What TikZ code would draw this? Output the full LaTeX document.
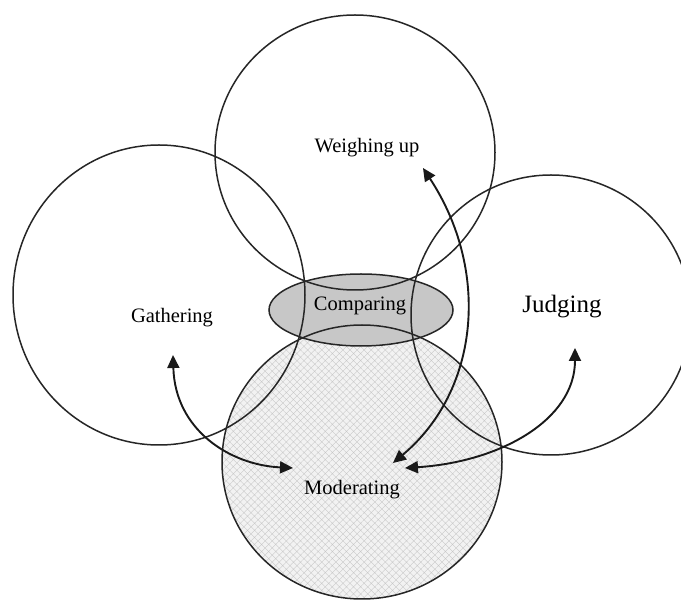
\documentclass[tikz,border=0pt]{standalone}
\usepackage{fontspec}
\setmainfont{Liberation Serif}
\usetikzlibrary{arrows.meta,patterns.meta}
\begin{document}
\begin{tikzpicture}[x=1pt,y=-1pt,
  ring/.style={draw=black!85,line width=1.5pt},
  lbl/.style={font=\fontsize{20.5}{24}\selectfont,anchor=base,inner sep=0pt},
  link/.style={line width=1.9pt,draw=black!90,{Triangle[length=13pt,width=12pt]}-{Triangle[length=13pt,width=12pt]}}]
\useasboundingbox (0,0) rectangle (681,601);
\clip (0,0) rectangle (681,601);
\fill[white] (0,0) rectangle (681,601);

% shaded moderating disc and the comparing ellipse
\fill[black!5] (362,462) ellipse [x radius=140,y radius=137];
\fill[black!22] (361,310) ellipse [x radius=92,y radius=36];
\fill[pattern={Hatch[angle=45,distance=5pt,line width=0.35pt]},pattern color=black!22]
  (362,462) ellipse [x radius=140,y radius=137];

% outlines
\draw[ring] (361,310) ellipse [x radius=92,y radius=36];
\draw[ring] (355,152.5) ellipse [x radius=140,y radius=137.5];
\draw[ring] (159,295) ellipse [x radius=146,y radius=150];
\draw[ring] (551,315) circle [radius=140];
\draw[ring] (362,462) ellipse [x radius=140,y radius=137];

% labels
\node[lbl] (weigh) at (367,153) {Weighing up};
\node[lbl] (gather) at (172,323) {Gathering};
\node[lbl] (compare) at (360,311) {Comparing};
\node[lbl,font=\fontsize{25}{30}\selectfont] (judge) at (562,313) {Judging};
\node[lbl] (moderate) at (352,495) {Moderating};

% arrow end points
\coordinate (gA) at (173,355);
\coordinate (gB) at (293,468);
\coordinate (wA) at (423,168);
\coordinate (wB) at (393,463);
\coordinate (jA) at (575,348);
\coordinate (jB) at (405,468);

% links
\draw[link] (gA) .. controls (175,430) and (230,465) .. (gB);
\draw[link] (wA) .. controls (490,270) and (480,390) .. (wB);
\draw[link] (jA) .. controls (575,420) and (500,462) .. (jB);
\end{tikzpicture}
\end{document}
